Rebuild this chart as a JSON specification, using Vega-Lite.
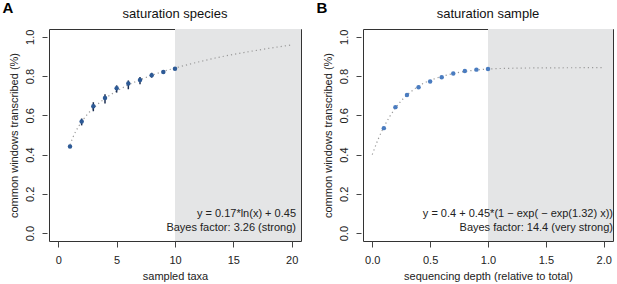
{
  "$schema": "https://vega.github.io/schema/vega-lite/v6.json",
  "background": "white",
  "padding": {"left": 2, "top": 1, "right": 0, "bottom": 0},
  "datasets": {
    "speciesPts": [
      {"x": 1, "y": 0.441, "lo": 0.437, "hi": 0.445},
      {"x": 2, "y": 0.569, "lo": 0.549, "hi": 0.584},
      {"x": 3, "y": 0.647, "lo": 0.621, "hi": 0.667},
      {"x": 4, "y": 0.688, "lo": 0.661, "hi": 0.707},
      {"x": 5, "y": 0.738, "lo": 0.716, "hi": 0.753},
      {"x": 6, "y": 0.762, "lo": 0.733, "hi": 0.778},
      {"x": 7, "y": 0.780, "lo": 0.759, "hi": 0.795},
      {"x": 8, "y": 0.804, "lo": 0.792, "hi": 0.817},
      {"x": 9, "y": 0.821, "lo": 0.816, "hi": 0.826},
      {"x": 10, "y": 0.837, "lo": 0.834, "hi": 0.840}
    ],
    "speciesFit": [
      {"x": 1, "y": 0.450}, {"x": 1.25, "y": 0.488}, {"x": 1.5, "y": 0.519}, {"x": 1.75, "y": 0.545},
      {"x": 2, "y": 0.568}, {"x": 2.5, "y": 0.606}, {"x": 3, "y": 0.637}, {"x": 3.5, "y": 0.663},
      {"x": 4, "y": 0.686}, {"x": 5, "y": 0.724}, {"x": 6, "y": 0.755}, {"x": 7, "y": 0.781},
      {"x": 8, "y": 0.804}, {"x": 9, "y": 0.824}, {"x": 10, "y": 0.841}, {"x": 12, "y": 0.872},
      {"x": 14, "y": 0.899}, {"x": 16, "y": 0.921}, {"x": 18, "y": 0.941}, {"x": 20, "y": 0.959}
    ],
    "samplePts": [
      {"x": 0.1, "y": 0.535}, {"x": 0.2, "y": 0.642}, {"x": 0.3, "y": 0.704}, {"x": 0.4, "y": 0.743},
      {"x": 0.5, "y": 0.772}, {"x": 0.6, "y": 0.794}, {"x": 0.7, "y": 0.813}, {"x": 0.8, "y": 0.826},
      {"x": 0.9, "y": 0.833}, {"x": 1.0, "y": 0.836}
    ],
    "sampleFit": [
      {"x": 0, "y": 0.400}, {"x": 0.05, "y": 0.477}, {"x": 0.1, "y": 0.540}, {"x": 0.15, "y": 0.593},
      {"x": 0.2, "y": 0.637}, {"x": 0.25, "y": 0.674}, {"x": 0.3, "y": 0.704}, {"x": 0.35, "y": 0.728},
      {"x": 0.4, "y": 0.749}, {"x": 0.5, "y": 0.778}, {"x": 0.6, "y": 0.798}, {"x": 0.7, "y": 0.813},
      {"x": 0.8, "y": 0.824}, {"x": 0.9, "y": 0.831}, {"x": 1.0, "y": 0.836}, {"x": 1.2, "y": 0.840},
      {"x": 1.5, "y": 0.842}, {"x": 2.0, "y": 0.843}
    ]
  },
  "config": {
    "font": "Liberation Sans",
    "view": {"stroke": "#333333", "strokeWidth": 1},
    "axis": {
      "grid": false, "domain": false, "tickColor": "#444444", "tickWidth": 1,
      "labelColor": "#222222", "labelFontSize": 11, "labelFlush": false, "labelOverlap": false,
      "titleFontSize": 11, "titleFontWeight": "normal", "titleColor": "#222222"
    },
    "axisX": {"tickSize": 6, "offset": 0, "labelPadding": 7.5, "titlePadding": 4.5},
    "axisY": {"tickSize": 5, "offset": 2, "labelAngle": 270, "labelAlign": "center", "labelBaseline": "bottom", "labelPadding": 7, "titlePadding": 5},
    "title": {"fontSize": 13, "fontWeight": "normal", "color": "#111111"}
  },
  "spacing": 14,
  "hconcat": [
    {
      "title": {"text": "A", "anchor": "start", "frame": "bounds", "fontSize": 15, "fontWeight": "bold", "baseline": "alphabetic", "offset": -20.5, "dx": -5, "color": "#000000"},
      "hconcat": [
        {
          "width": 252,
          "height": 212,
          "title": {"text": "saturation species", "anchor": "middle", "baseline": "alphabetic", "offset": -2},
          "layer": [
            {
              "data": {"values": [{}]},
              "mark": {"type": "rect", "color": "#e4e5e6"},
              "encoding": {
                "x": {"datum": 10, "type": "quantitative", "scale": {"domain": [-0.8, 20.8], "nice": false, "zero": false},
                  "axis": {"title": "sampled taxa", "values": [0, 5, 10, 15, 20]}},
                "x2": {"datum": 20.8},
                "y": {"datum": -0.04, "type": "quantitative", "scale": {"domain": [-0.04, 1.04], "nice": false, "zero": false},
                  "axis": {"title": "common windows transcribed (%)", "values": [0, 0.2, 0.4, 0.6, 0.8, 1.0], "format": ".1f"}},
                "y2": {"datum": 1.04}
              }
            },
            {
              "data": {"name": "speciesFit"},
              "mark": {"type": "line", "color": "#9a9a9a", "strokeDash": [1.2, 3], "strokeWidth": 1.2, "interpolate": "monotone"},
              "encoding": {
                "x": {"field": "x", "type": "quantitative"},
                "y": {"field": "y", "type": "quantitative"}
              }
            },
            {
              "data": {"name": "speciesPts"},
              "mark": {"type": "rule", "color": "#1c2f52", "strokeWidth": 1.5},
              "encoding": {
                "x": {"field": "x", "type": "quantitative"},
                "y": {"field": "lo", "type": "quantitative"},
                "y2": {"field": "hi"}
              }
            },
            {
              "data": {"name": "speciesPts"},
              "mark": {"type": "circle", "color": "#2d5a96", "size": 20, "opacity": 1},
              "encoding": {
                "x": {"field": "x", "type": "quantitative"},
                "y": {"field": "y", "type": "quantitative"}
              }
            },
            {
              "data": {"values": [{"label": "y = 0.17*ln(x) + 0.45\nBayes factor: 3.26 (strong)"}]},
              "mark": {"type": "text", "align": "right", "baseline": "bottom", "lineBreak": "\n", "lineHeight": 14, "fontSize": 11, "color": "#222222", "dx": -5, "dy": -22},
              "encoding": {
                "x": {"datum": 20.8, "type": "quantitative"},
                "y": {"datum": -0.04, "type": "quantitative"},
                "text": {"field": "label"}
              }
            }
          ]
        }
      ]
    },
    {
      "title": {"text": "B", "anchor": "start", "frame": "bounds", "fontSize": 15, "fontWeight": "bold", "baseline": "alphabetic", "offset": -20.5, "dx": -5, "color": "#000000"},
      "hconcat": [
        {
          "width": 250,
          "height": 212,
          "title": {"text": "saturation sample", "anchor": "middle", "baseline": "alphabetic", "offset": -2},
          "layer": [
            {
              "data": {"values": [{}]},
              "mark": {"type": "rect", "color": "#e4e5e6"},
              "encoding": {
                "x": {"datum": 1, "type": "quantitative", "scale": {"domain": [-0.08, 2.08], "nice": false, "zero": false},
                  "axis": {"title": "sequencing depth (relative to total)", "values": [0, 0.5, 1, 1.5, 2], "format": ".1f"}},
                "x2": {"datum": 2.08},
                "y": {"datum": -0.04, "type": "quantitative", "scale": {"domain": [-0.04, 1.04], "nice": false, "zero": false},
                  "axis": {"title": "common windows transcribed (%)", "values": [0, 0.2, 0.4, 0.6, 0.8, 1.0], "format": ".1f"}},
                "y2": {"datum": 1.04}
              }
            },
            {
              "data": {"name": "sampleFit"},
              "mark": {"type": "line", "color": "#9a9a9a", "strokeDash": [1.2, 3], "strokeWidth": 1.2, "interpolate": "monotone"},
              "encoding": {
                "x": {"field": "x", "type": "quantitative"},
                "y": {"field": "y", "type": "quantitative"}
              }
            },
            {
              "data": {"name": "samplePts"},
              "mark": {"type": "circle", "color": "#4a7cc0", "size": 20, "opacity": 1},
              "encoding": {
                "x": {"field": "x", "type": "quantitative"},
                "y": {"field": "y", "type": "quantitative"}
              }
            },
            {
              "data": {"values": [{"label": "y = 0.4 + 0.45*(1 − exp( − exp(1.32) x))\nBayes factor: 14.4 (very strong)"}]},
              "mark": {"type": "text", "align": "right", "baseline": "bottom", "lineBreak": "\n", "lineHeight": 14, "fontSize": 11, "color": "#222222", "dx": 0, "dy": -22},
              "encoding": {
                "x": {"datum": 2.08, "type": "quantitative"},
                "y": {"datum": -0.04, "type": "quantitative"},
                "text": {"field": "label"}
              }
            }
          ]
        }
      ]
    }
  ]
}
